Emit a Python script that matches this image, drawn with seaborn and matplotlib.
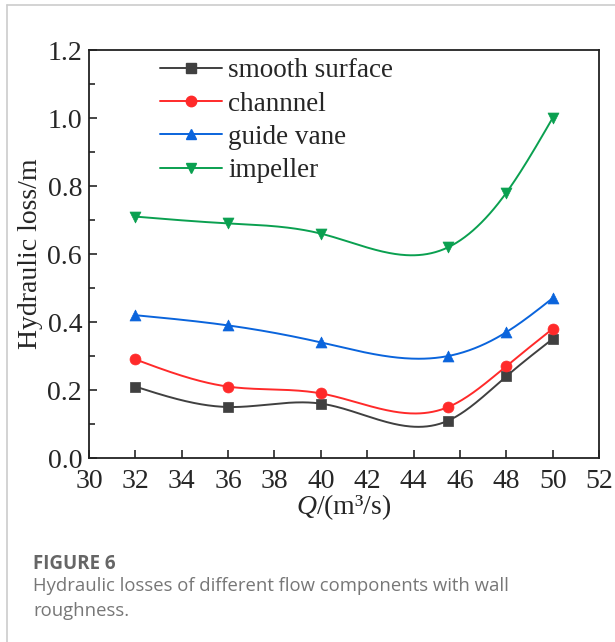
import numpy as np
import pandas as pd
import matplotlib
matplotlib.use("Agg")
import matplotlib.pyplot as plt
from matplotlib.lines import Line2D
import seaborn as sns

# ---- data ----
flow = [32, 36, 40, 45.5, 48, 50]
smooth_surface = [0.21, 0.15, 0.16, 0.11, 0.24, 0.35]
channel = [0.29, 0.21, 0.19, 0.15, 0.27, 0.38]
guide_vane = [0.42, 0.39, 0.34, 0.30, 0.37, 0.47]
impeller = [0.71, 0.69, 0.66, 0.62, 0.78, 1.00]
series_names = ["smooth surface", "channnel", "guide vane", "impeller"]
x_ticks = [30, 32, 34, 36, 38, 40, 42, 44, 46, 48, 50, 52]
y_ticks = [0.0, 0.2, 0.4, 0.6, 0.8, 1.0, 1.2]

colors = ["#404040", "#ff2a2a", "#0a64dc", "#0aa050"]
markers = ["s", "o", "^", "v"]


def natural_spline(x, y, n=300):
    x = np.asarray(x, float); y = np.asarray(y, float)
    k = len(x); h = np.diff(x)
    A = np.zeros((k, k)); b = np.zeros(k)
    A[0, 0] = 1; A[-1, -1] = 1
    for i in range(1, k - 1):
        A[i, i - 1] = h[i - 1]; A[i, i] = 2 * (h[i - 1] + h[i]); A[i, i + 1] = h[i]
        b[i] = 3 * ((y[i + 1] - y[i]) / h[i] - (y[i] - y[i - 1]) / h[i - 1])
    c = np.linalg.solve(A, b)
    xs = np.linspace(x[0], x[-1], n); ys = np.empty_like(xs)
    for j, xv in enumerate(xs):
        i = min(np.searchsorted(x, xv, side="right") - 1, k - 2)
        d = xv - x[i]
        bb = (y[i + 1] - y[i]) / h[i] - h[i] * (2 * c[i] + c[i + 1]) / 3
        dd = (c[i + 1] - c[i]) / (3 * h[i])
        ys[j] = y[i] + bb * d + c[i] * d ** 2 + dd * d ** 3
    return xs, ys


sns.set_style("white")
plt.rcParams["font.family"] = ["Liberation Serif", "DejaVu Serif"]
plt.rcParams["mathtext.fontset"] = "custom"
plt.rcParams["mathtext.rm"] = "Liberation Serif"
plt.rcParams["mathtext.it"] = "Liberation Serif:italic"

fig = plt.figure(figsize=(6.15, 6.42), dpi=100)
ax = fig.add_axes([89 / 615, 1 - 458 / 642, 510 / 615, 408 / 642])

all_series = [smooth_surface, channel, guide_vane, impeller]
handles = []
for name, vals, col, mk in zip(series_names, all_series, colors, markers):
    xs, ys = natural_spline(flow, vals)
    sns.lineplot(x=xs, y=ys, ax=ax, color=col, lw=1.4, sort=False)
    df = pd.DataFrame({"Q": flow, "loss": vals})
    sns.scatterplot(data=df, x="Q", y="loss", ax=ax, color=col, marker=mk,
                    s=62, edgecolor=col, linewidth=0.5, zorder=3)
    handles.append(Line2D([0], [0], color=col, lw=1.4, marker=mk, markersize=7.5,
                          markeredgecolor=col, label=name))

ax.set_xlim(30, 52)
ax.set_ylim(0, 1.2)
ax.set_xticks(x_ticks)
ax.set_yticks(y_ticks)
ax.set_yticks(np.arange(0.1, 1.2, 0.2), minor=True)
ax.set_xticklabels([str(v) for v in x_ticks])
ax.set_yticklabels([f"{v:.1f}" for v in y_ticks])
ax.tick_params(axis="both", which="major", direction="in", length=6, width=1.2,
               labelsize=20, bottom=True, left=True, top=False, right=False, pad=5)
ax.tick_params(axis="x", which="major", pad=8)
ax.tick_params(axis="y", which="minor", direction="in", length=4, width=1.2, left=True)
for s in ax.spines.values():
    s.set_linewidth(1.3)
    s.set_color("#222222")
ax.set_xlabel(r"$\mathit{Q}$/(m³/s)", fontsize=20, labelpad=-1)
ax.set_ylabel("Hydraulic loss/m", fontsize=20, labelpad=3)

ax.legend(handles=handles, loc="upper left", bbox_to_anchor=(0.139, 0.98),
          frameon=False, fontsize=19.5, handlelength=2.3, handletextpad=0.22,
          labelspacing=0.31, borderaxespad=0, borderpad=0)

# page frame lines and caption
fig.add_artist(Line2D([7 / 615, 1], [1 - 5 / 642, 1 - 5 / 642], color="#cccccc", lw=1.2))
fig.add_artist(Line2D([7 / 615, 7 / 615], [0, 1 - 5 / 642], color="#cccccc", lw=1.2))
fig.text(33 / 615, 1 - 564 / 642, "FIGURE 6", fontsize=13.5, fontweight="bold",
         color="#666666", family="Open Sans", va="center")
fig.text(33 / 615, 1 - 586 / 642, "Hydraulic losses of different flow components with wall",
         fontsize=13.3, color="#777777", family="Open Sans", va="center")
fig.text(33 / 615, 1 - 611 / 642, "roughness.",
         fontsize=13.3, color="#777777", family="Open Sans", va="center")

fig.savefig("out.png", dpi=100)
